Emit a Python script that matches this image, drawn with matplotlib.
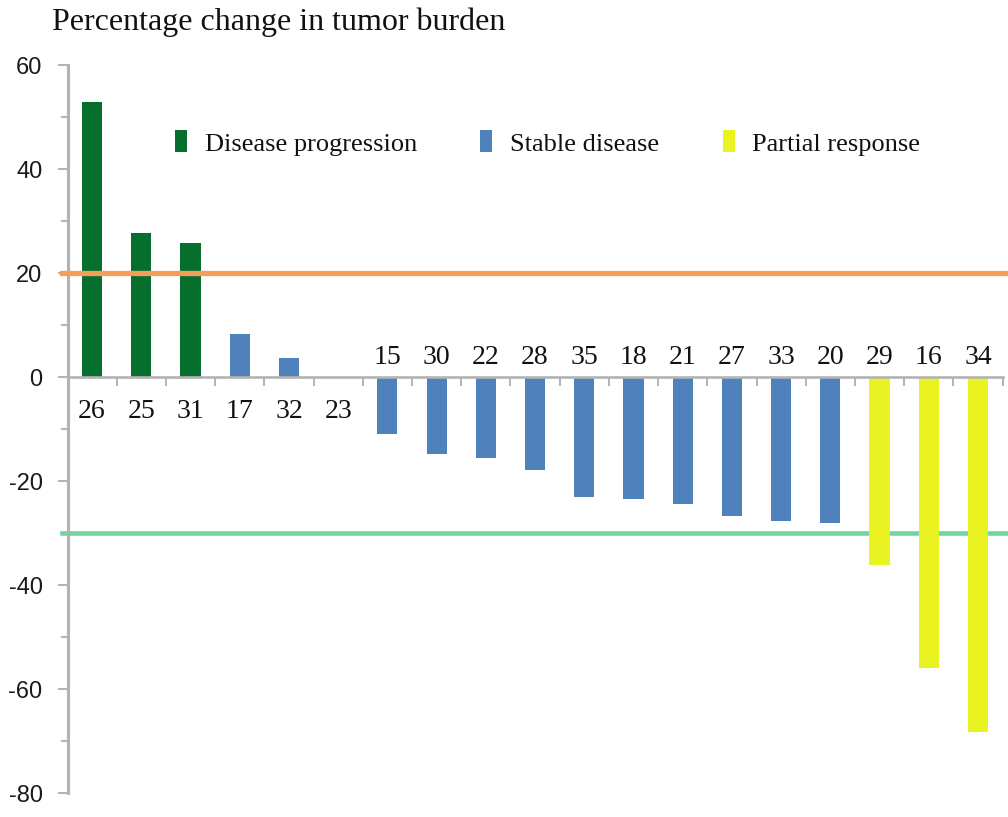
import matplotlib
matplotlib.use("Agg")
import matplotlib.pyplot as plt
from matplotlib.patches import Patch
from matplotlib.ticker import MultipleLocator, FixedLocator

plt.rcParams["axes.unicode_minus"] = False

# ---- data ----
patients = ["26", "25", "31", "17", "32", "23", "15", "30", "22", "28",
            "35", "18", "21", "27", "33", "20", "29", "16", "34"]
changes = [52.9, 27.6, 25.8, 8.3, 3.7, 0.0, -10.9, -14.8, -15.6, -17.9,
           -23.0, -23.5, -24.4, -26.7, -27.7, -28.1, -36.1, -55.9, -68.3]
response = ["PD", "PD", "PD", "SD", "SD", "SD", "SD", "SD", "SD", "SD",
            "SD", "SD", "SD", "SD", "SD", "SD", "PR", "PR", "PR"]
groups = ["PD", "SD", "PR"]
group_labels = ["Disease progression", "Stable disease", "Partial response"]
progression_threshold = 20
response_threshold = -30
title = "Percentage change in tumor burden"

colors = {"PD": "#076F2E", "SD": "#4F81BD", "PR": "#E9F321"}
gray = "#B3B3B3"

W, H = 1008, 817
fig = plt.figure(figsize=(W / 100, H / 100), dpi=100)
left, right = 67.5 / W, 1002.6 / W
top, bottom = 1 - 65 / H, 1 - 793 / H
ax = fig.add_axes([left, bottom, right - left, top - bottom])

x = list(range(len(patients)))
ax.bar(x, changes, width=0.41, color=[colors[r] for r in response], zorder=3)

ax.set_xlim(-0.5, len(patients) - 0.5)
ax.set_ylim(-80, 60)

# threshold lines
axw = (right - left) * W
ax.axhline(progression_threshold, xmin=(62 - 67.5) / axw, xmax=(1008 - 67.5) / axw,
           color="#F59E5A", lw=3.8, zorder=4, clip_on=False)
ax.axhline(response_threshold, xmin=(62 - 67.5) / axw, xmax=(1008 - 67.5) / axw,
           color="#72D5A0", lw=3.3, zorder=2, clip_on=False)

# spines
for s in ["top", "right"]:
    ax.spines[s].set_visible(False)
ax.spines["left"].set_color(gray)
ax.spines["left"].set_linewidth(2.2)
ax.spines["bottom"].set_position(("data", 0))
ax.spines["bottom"].set_color(gray)
ax.spines["bottom"].set_linewidth(1.9)
ax.spines["bottom"].set_zorder(5)

# y ticks
ax.yaxis.set_major_locator(MultipleLocator(20))
ax.yaxis.set_minor_locator(MultipleLocator(10))
ax.tick_params(axis="y", which="major", length=7, width=1.4, color=gray,
               pad=11, labelsize=17, labelcolor="#1a1a1a")
ax.tick_params(axis="y", which="minor", length=5, width=1.4, color=gray)
for lab in ax.get_yticklabels():
    lab.set_fontfamily("Liberation Sans")

# x ticks at category boundaries, labels as text near zero line
ax.xaxis.set_major_locator(FixedLocator([]))
ax.xaxis.set_minor_locator(FixedLocator([i + 0.5 for i in x]))
ax.tick_params(axis="x", which="minor", direction="out", length=6.5, width=1.4,
               color=gray)
ax.tick_params(axis="x", which="major", length=0)

for xi, name, v in zip(x, patients, changes):
    if v < 0:
        ax.annotate(name, (xi, 0), xytext=(0, 9.4), textcoords="offset points",
                    ha="center", va="baseline", fontsize=20,
                    family="Liberation Serif", color="#111111")
    else:
        ax.annotate(name, (xi, 0), xytext=(0, -29.5), textcoords="offset points",
                    ha="center", va="baseline", fontsize=20,
                    family="Liberation Serif", color="#111111")

# title
fig.text(52 / W, 1 - 30 / H, title, fontsize=23, family="Liberation Serif",
         ha="left", va="baseline", color="#111111")

# legend
handles = [Patch(facecolor=colors[g], edgecolor="none", label=lbl)
           for g, lbl in zip(groups, group_labels)]
leg = ax.legend(handles=handles, ncol=3, frameon=False,
                loc="center left", bbox_to_anchor=(175 / W, 1 - 143 / H),
                bbox_transform=fig.transFigure, borderaxespad=0, borderpad=0,
                prop={"family": "Liberation Serif", "size": 19},
                handlelength=0.45, handleheight=0.9, handletextpad=0.68,
                columnspacing=2.4)
for t in leg.get_texts():
    t.set_color("#111111")

fig.savefig("out.png", dpi=100, facecolor="white")
